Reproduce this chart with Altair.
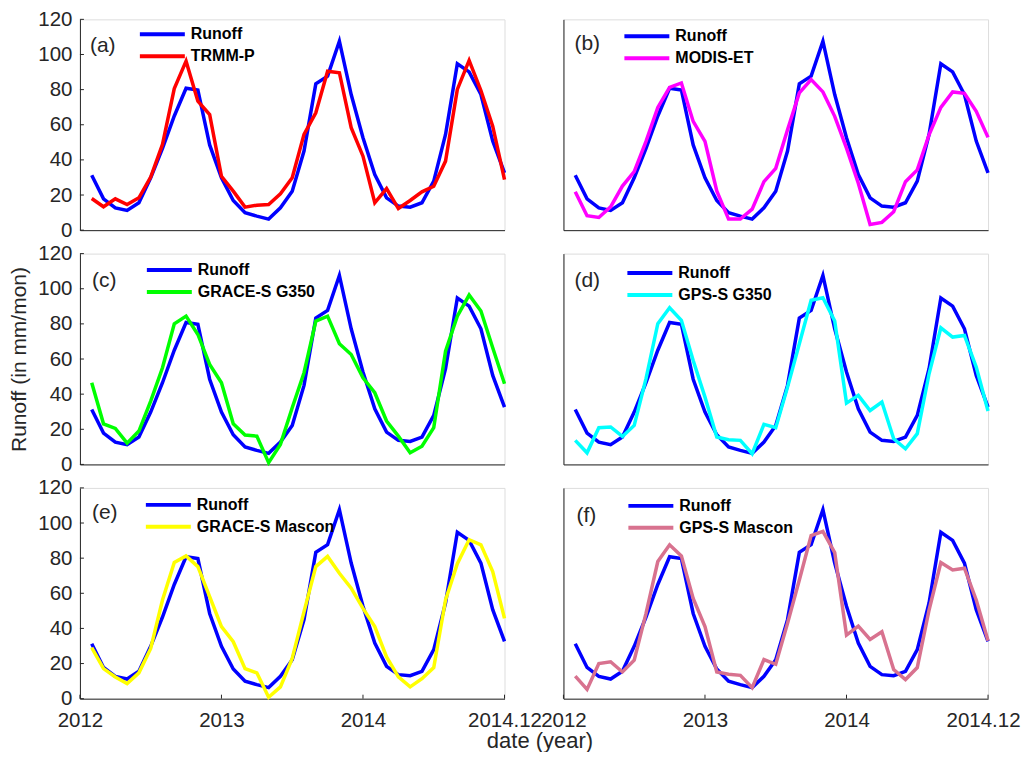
import altair as alt
import pandas as pd

FONT = "Liberation Sans"
TXT = "#262626"

months = list(range(1, 37))

runoff = [31.3, 17.8, 12.7, 11.2, 15.6, 29.8, 46.5, 65.0, 80.8, 79.8, 48.5, 29.8,
          16.9, 9.9, 8.0, 6.3, 12.7, 22.2, 45.0, 83.3, 87.7, 107.6, 77.2, 52.6,
          31.7, 18.4, 13.7, 13.1, 15.6, 27.9, 54.5, 94.7, 90.1, 77.2, 50.7, 32.6]

trmm_p = [18.0, 13.3, 17.8, 14.6, 18.4, 30.2, 48.8, 80.6, 96.2, 73.4, 65.8, 30.7,
          22.2, 13.1, 14.2, 14.6, 20.7, 29.8, 54.5, 66.8, 90.5, 89.6, 58.3, 42.1,
          15.6, 23.7, 12.3, 16.9, 21.8, 25.0, 39.3, 80.1, 96.6, 79.5, 59.2, 28.8]

modis_et = [21.9, 8.2, 7.2, 13.3, 25.1, 33.3, 50.5, 69.9, 81.3, 83.8, 61.9, 50.5,
            22.3, 6.3, 6.3, 12.0, 27.6, 35.2, 57.1, 78.1, 85.7, 78.7, 64.8, 46.7,
            26.7, 3.2, 4.4, 10.5, 27.6, 34.3, 54.3, 69.9, 78.7, 77.9, 67.6, 52.8]

grace_g350 = [46.5, 23.1, 20.5, 12.1, 19.0, 36.0, 55.0, 80.0, 84.4, 74.0, 56.9, 46.5,
              23.1, 16.7, 16.1, 1.0, 11.4, 32.3, 52.2, 81.6, 84.4, 68.7, 62.6, 49.3,
              40.8, 24.7, 16.1, 6.6, 10.4, 20.9, 64.5, 84.4, 96.4, 87.3, 66.4, 45.9]

gps_g350 = [13.7, 6.6, 20.9, 21.3, 15.9, 22.2, 48.8, 80.1, 89.2, 82.0, 59.2, 38.3,
            15.6, 14.0, 13.7, 6.1, 22.8, 20.9, 44.0, 68.7, 93.4, 94.9, 81.6, 34.9,
            39.3, 30.7, 35.5, 14.6, 8.9, 17.5, 51.6, 77.8, 72.5, 73.4, 55.4, 30.4]

grace_mascon = [29.1, 17.1, 12.4, 8.6, 14.7, 28.6, 56.2, 77.5, 81.3, 75.2, 58.1, 41.0,
                32.4, 17.1, 14.7, 0.8, 6.7, 22.9, 49.5, 75.2, 81.0, 71.4, 62.9, 51.4,
                41.0, 23.8, 12.4, 6.7, 11.4, 17.7, 56.2, 76.8, 90.5, 87.6, 72.4, 45.7]

gps_mascon = [12.8, 5.3, 20.0, 21.0, 15.2, 21.9, 48.6, 78.1, 87.6, 81.3, 57.1, 41.0,
              15.2, 13.9, 13.3, 6.3, 22.3, 19.6, 42.9, 67.6, 92.8, 95.2, 83.2, 36.2,
              41.3, 33.7, 38.1, 16.6, 10.9, 17.7, 50.5, 77.5, 73.3, 74.3, 56.2, 33.0]

panel_tags = ["(a)", "(b)", "(c)", "(d)", "(e)", "(f)"]
series_names = ["TRMM-P", "MODIS-ET", "GRACE-S G350", "GPS-S G350",
                "GRACE-S Mascon", "GPS-S Mascon"]
series_values = [trmm_p, modis_et, grace_g350, gps_g350, grace_mascon, gps_mascon]
series_colors = ["#FF0000", "#FF00FF", "#00FF00", "#00FFFF", "#FFFF00", "#D8728F"]
runoff_color = "#0000FF"

xtick_values = [0, 12, 24, 36]
xtick_labels = ["2012", "2013", "2014", "2014.12"]
ytick_values = [0, 20, 40, 60, 80, 100, 120]

# legend placement within each panel (pixels from plot origin)
legend_x0 = [60, 61, 67, 64, 66, 65]
legend_y0 = [15, 17, 16.5, 19.5, 17, 18]
tag_x = [10, 11, 12, 11, 12, 13]
tag_y = [27, 25, 27.5, 27.5, 25, 28]

W, H = 425, 211
TICK_FS = 20.5

label_expr = " : ".join(
    f"datum.value == {v} ? '{l}'" for v, l in zip(xtick_values[:-1], xtick_labels[:-1])
) + f" : '{xtick_labels[-1]}'"

xscale = alt.Scale(domain=[0, 36], nice=False, zero=False)
yscale = alt.Scale(domain=[0, 120], nice=False)

charts = []
for i in range(6):
    row, col = divmod(i, 2)
    bottom = row == 2
    left = col == 0

    xaxis_kw = dict(values=xtick_values, grid=False, ticks=False, tickSize=0,
                    domainColor=TXT, domainWidth=1, labels=bottom, labelFlush=False)
    if bottom:
        xaxis_kw.update(labelExpr=label_expr, labelPadding=12, labelFontSize=TICK_FS,
                        labelFont=FONT, labelColor=TXT, labelOverlap=False)
        if not left:
            # keep the last label inside the page
            xaxis_kw.update(labelOffset={"condition": {"test": f"datum.value == {xtick_values[-1]}",
                                                       "value": -5},
                                         "value": 0})
    if bottom and left:
        xaxis_kw.update(title="date (year)", titleX=460, titleY=48.5,
                        titleBaseline="alphabetic", titleFontSize=22,
                        titleFontWeight="normal", titleFont=FONT, titleColor=TXT)
    else:
        xaxis_kw.update(title="")
    xaxis = alt.Axis(**xaxis_kw)

    yaxis_kw = dict(values=ytick_values, grid=False, ticks=False, tickSize=0,
                    domainColor=TXT, domainWidth=1, labels=left, labelFlush=False)
    if left:
        yaxis_kw.update(labelPadding=8, labelFontSize=TICK_FS, labelFont=FONT,
                        labelColor=TXT)
    if left and row == 1:
        yaxis_kw.update(title="Runoff (in mm/mon)", titleX=-60,
                        titleBaseline="middle", titleFontSize=21,
                        titleFontWeight="normal", titleFont=FONT, titleColor=TXT)
    else:
        yaxis_kw.update(title="")
    yaxis = alt.Axis(**yaxis_kw)

    X = alt.X("m:Q", scale=xscale, axis=xaxis)
    Y = alt.Y("v:Q", scale=yscale, axis=yaxis)

    name = series_names[i]
    color = series_colors[i]

    l_runoff = alt.Chart(pd.DataFrame({"m": months, "v": runoff})).mark_line(
        color=runoff_color, strokeWidth=3.5, strokeJoin="miter").encode(x=X, y=Y)
    l_other = alt.Chart(pd.DataFrame({"m": months, "v": series_values[i]})).mark_line(
        color=color, strokeWidth=3.5, strokeJoin="miter").encode(x=X, y=Y)

    layers = [l_runoff, l_other]

    # inward ticks (MATLAB style)
    if left:
        layers.append(
            alt.Chart(pd.DataFrame({"v": ytick_values})).mark_rule(
                color=TXT, strokeWidth=1).encode(y=Y, x=alt.value(0), x2=alt.value(4))
        )
    if bottom:
        layers.append(
            alt.Chart(pd.DataFrame({"m": xtick_values})).mark_rule(
                color=TXT, strokeWidth=1).encode(x=X, y=alt.value(H), y2=alt.value(H - 4))
        )

    # legend (manual)
    lx0 = legend_x0[i]
    ly0 = legend_y0[i]
    for k, (nm, cl) in enumerate([("Runoff", runoff_color), (name, color)]):
        ly = ly0 + 22 * k
        layers.append(
            alt.Chart(pd.DataFrame({"s": [nm]})).mark_rule(
                color=cl, strokeWidth=4).encode(
                x=alt.value(lx0), x2=alt.value(lx0 + 45), y=alt.value(ly))
        )
        layers.append(
            alt.Chart(pd.DataFrame({"s": [nm]})).mark_text(
                align="left", baseline="middle", font=FONT, fontSize=16,
                fontWeight="bold", color="#000000").encode(
                text="s:N", x=alt.value(lx0 + 51), y=alt.value(ly))
        )
    layers.append(
        alt.Chart(pd.DataFrame({"s": [panel_tags[i]]})).mark_text(
            align="left", baseline="middle", font=FONT, fontSize=21,
            color=TXT).encode(text="s:N", x=alt.value(tag_x[i]), y=alt.value(tag_y[i]))
    )

    charts.append(alt.layer(*layers).properties(width=W, height=H))

chart = alt.concat(*charts, columns=2, spacing={"row": 23.5, "column": 59},
                   bounds="flush").properties(
    padding={"left": 0, "top": 0, "right": 0, "bottom": 0}
).configure_view(strokeWidth=0).configure(background="white")

chart.save("out.html", embed_options={"renderer": "svg", "actions": False})
